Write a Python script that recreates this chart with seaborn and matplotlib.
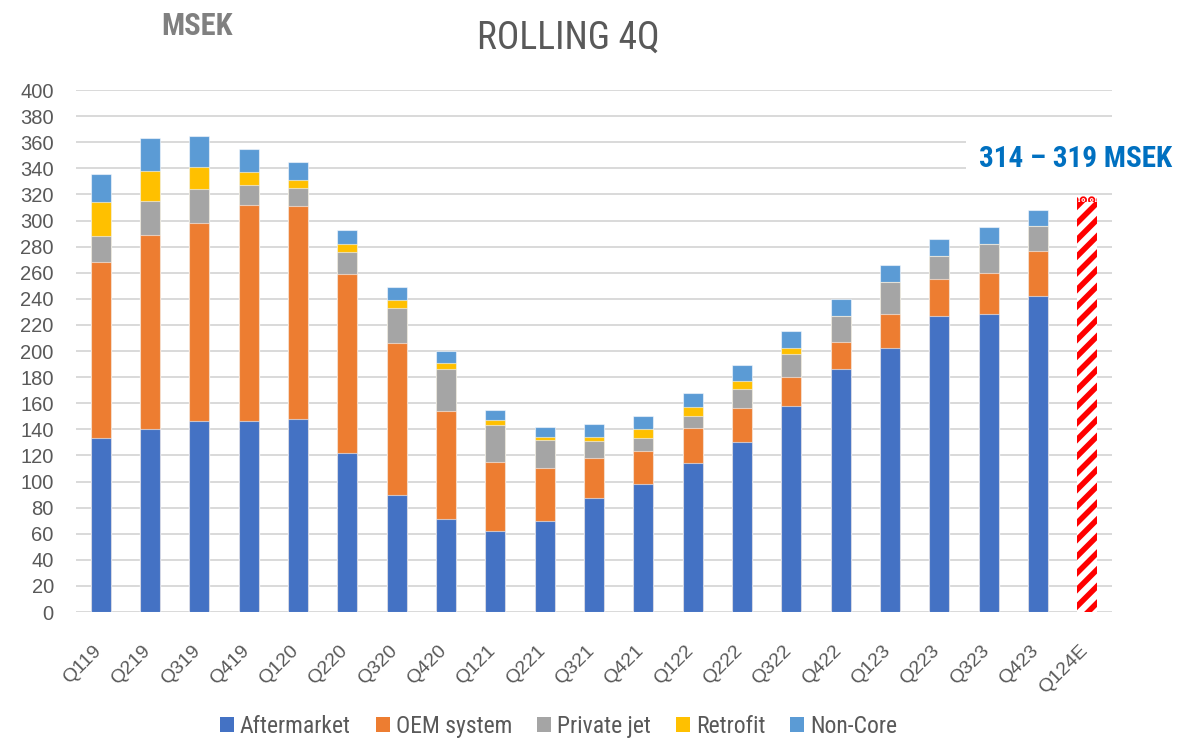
import matplotlib
matplotlib.use("Agg")
import matplotlib.pyplot as plt
import matplotlib.transforms as mtransforms
from matplotlib import font_manager
from matplotlib.patches import Patch
import seaborn as sns
import pandas as pd

# ---------------- data ----------------
quarters = ["Q119", "Q219", "Q319", "Q419", "Q120", "Q220", "Q320", "Q420",
            "Q121", "Q221", "Q321", "Q421", "Q122", "Q222", "Q322", "Q422",
            "Q123", "Q223", "Q323", "Q423", "Q124E"]
aftermarket = [133, 140, 146, 146, 148, 122, 90, 71, 62, 70, 87, 98, 114, 130,
               158, 186, 202, 227, 228, 242, 0]
oem_system = [135, 149, 152, 166, 163, 137, 116, 83, 53, 40, 31, 25, 27, 26,
              22, 21, 26, 28, 32, 35, 0]
private_jet = [20, 26, 26, 15, 14, 17, 27, 32, 28, 22, 13, 10, 9, 15,
               18, 20, 25, 18, 22, 19, 0]
retrofit = [26, 23, 17, 10, 6, 6, 6, 5, 4, 2, 3, 7, 7, 6,
            4, 0, 0, 0, 0, 0, 0]
non_core = [22, 25, 24, 18, 14, 11, 10, 9, 8, 8, 10, 10, 11, 12,
            13, 13, 13, 13, 13, 12, 0]
series_names = ["Aftermarket", "OEM system", "Private jet", "Retrofit", "Non-Core"]
estimate_quarter = "Q124E"
estimate_low = 314
estimate_high = 319
estimate_label = "314 – 319 MSEK"
yticks = list(range(0, 401, 20))

colors = ["#4472C4", "#ED7D31", "#A5A5A5", "#FFC000", "#5B9BD5"]

# ---------------- style ----------------
sns.set_theme(style="white")
names = {f.name for f in font_manager.fontManager.ttflist}
narrow = next((f for f in ["Liberation Sans Narrow", "Arial Narrow", "Roboto Condensed",
                           "Open Sans Condensed"] if f in names), None)
if narrow:
    nfont = dict(family=narrow)
else:
    nfont = dict(family="DejaVu Sans", stretch="condensed")
tick_family = "Liberation Sans" if "Liberation Sans" in names else "DejaVu Sans"
plt.rcParams["font.family"] = [tick_family, "DejaVu Sans"]
plt.rcParams["hatch.linewidth"] = 4.0

fig = plt.figure(figsize=(11.77, 7.42), dpi=100)
ax = fig.add_axes([0.0646, 0.1752, 0.8802, 0.7035])

df = pd.DataFrame({"quarter": quarters, "Aftermarket": aftermarket,
                   "OEM system": oem_system, "Private jet": private_jet,
                   "Retrofit": retrofit, "Non-Core": non_core})
cum = df[series_names].cumsum(axis=1)

bar_w = 0.41
# draw from top layer down so lower layers cover upper cumulative bars
for name, col in reversed(list(zip(series_names, colors))):
    sns.barplot(x=df["quarter"], y=cum[name], order=quarters, color=col,
                saturation=1, width=bar_w, edgecolor=(1, 1, 1, 0.55),
                linewidth=0.8, ax=ax, errorbar=None)

# estimate bar (hatched)
sns.barplot(x=[estimate_quarter], y=[estimate_low], order=quarters, color="white",
            saturation=1, width=bar_w, edgecolor="#FF0000", hatch="//",
            linewidth=0, ax=ax, errorbar=None)
sns.barplot(x=[estimate_quarter], y=[estimate_high - estimate_low],
            bottom=[estimate_low], order=quarters, color="white",
            saturation=1, width=bar_w, edgecolor="#FF0000", hatch="..",
            linewidth=0, ax=ax, errorbar=None)

# ---------------- axes ----------------
ax.set_xlim(-0.5, len(quarters) - 0.5)
ax.set_ylim(0, 400)
ax.set_yticks(yticks)
ax.set_xlabel("")
ax.set_ylabel("")
ax.yaxis.grid(True, color="#D9D9D9", linewidth=1.4)
ax.xaxis.grid(False)
ax.set_axisbelow(True)
for s in ax.spines.values():
    s.set_visible(False)
ax.tick_params(axis="y", length=0, pad=16, labelsize=14.5, labelcolor="#595959")
ax.tick_params(axis="x", length=0, pad=26, labelsize=14, labelcolor="#595959")
offset = mtransforms.ScaledTranslation(-2 / 100, 0, fig.dpi_scale_trans)
for lbl in ax.get_xticklabels():
    lbl.set_rotation(45)
    lbl.set_ha("right")
    lbl.set_va("center")
    lbl.set_rotation_mode("anchor")
    lbl.set_transform(lbl.get_transform() + offset)

# ---------------- texts ----------------
fig.text(197 / 1177, 1 - 26 / 742, "MSEK", ha="center", va="center",
         fontsize=22, fontweight="bold", color="#808080", **nfont)
fig.text(568 / 1177, 1 - 38.5 / 742, "ROLLING 4Q", ha="center", va="center",
         fontsize=27, color="#595959", **nfont)
fig.text(1076 / 1177, 1 - 159 / 742, estimate_label, ha="center", va="center",
         fontsize=21, fontweight="bold", color="#0070C0",
         bbox=dict(boxstyle="square,pad=0.45", facecolor="white", edgecolor="none"),
         **nfont)

handles = [Patch(facecolor=c, edgecolor="none") for c in colors]
fig.legend(handles, series_names, loc="center", bbox_to_anchor=(0.4745, 0.021),
           ncol=5, frameon=False, prop=dict(size=17, **nfont),
           handlelength=0.6, handleheight=0.6, columnspacing=1.05,
           handletextpad=0.25, labelcolor="#595959", borderpad=0.1)

fig.savefig("out.png", dpi=100)
